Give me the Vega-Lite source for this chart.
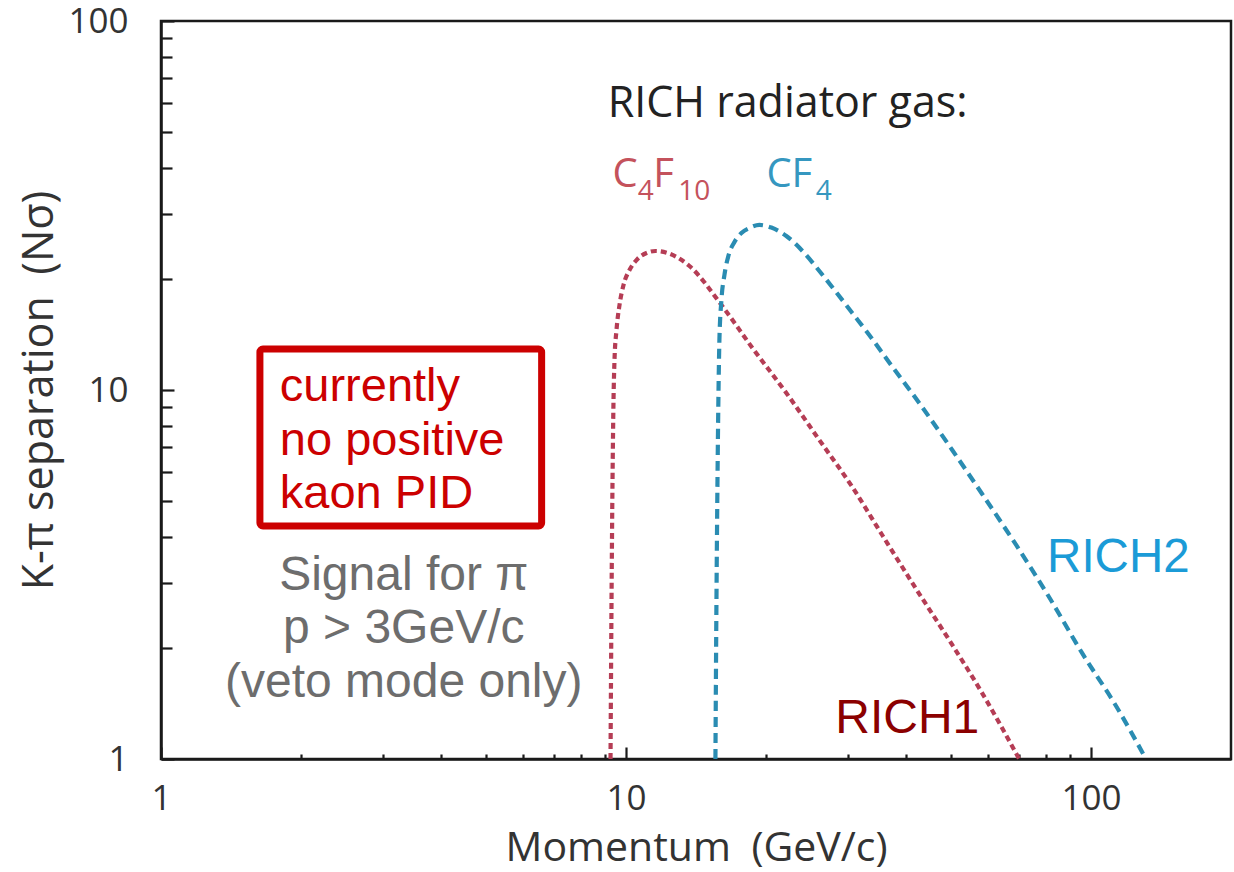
{
  "$schema": "https://vega.github.io/schema/vega-lite/v6.json",
  "width": 1070,
  "height": 738,
  "autosize": {"type": "none"},
  "padding": {"left": 161, "top": 21, "right": 3, "bottom": 113},
  "background": "white",
  "config": {
    "view": {"stroke": "#1a1a1a", "strokeWidth": 2.5},
    "axis": {"grid": false, "tickColor": "#1a1a1a", "domainColor": "#1a1a1a", "domainWidth": 2.5, "tickWidth": 2.2}
  },
  "datasets": {
    "c4f10": [
      {"p": 9.262, "n": 1.0}, {"p": 9.308, "n": 2.697}, {"p": 9.354, "n": 5.704}, {"p": 9.4, "n": 9.395},
      {"p": 9.446, "n": 12.06}, {"p": 9.54, "n": 14.54}, {"p": 9.683, "n": 17.0}, {"p": 9.877, "n": 19.26},
      {"p": 10.175, "n": 21.14}, {"p": 10.586, "n": 22.65}, {"p": 11.067, "n": 23.51}, {"p": 11.571, "n": 23.81},
      {"p": 12.28, "n": 23.51}, {"p": 13.69, "n": 21.68}, {"p": 16.04, "n": 17.0}, {"p": 18.7, "n": 13.0},
      {"p": 22.12, "n": 9.814}, {"p": 26.05, "n": 7.318}, {"p": 30.66, "n": 5.46}, {"p": 35.56, "n": 4.046},
      {"p": 42.08, "n": 2.888}, {"p": 49.54, "n": 2.101}, {"p": 58.33, "n": 1.509}, {"p": 70.05, "n": 1.0}
    ],
    "cf4": [
      {"p": 15.57, "n": 1.0}, {"p": 15.65, "n": 2.697}, {"p": 15.73, "n": 5.704}, {"p": 15.8, "n": 9.395},
      {"p": 15.88, "n": 13.66}, {"p": 16.04, "n": 17.54}, {"p": 16.28, "n": 20.5}, {"p": 16.6, "n": 23.08},
      {"p": 17.11, "n": 25.18}, {"p": 17.71, "n": 26.64}, {"p": 18.42, "n": 27.48}, {"p": 19.36, "n": 28.01},
      {"p": 20.54, "n": 27.56}, {"p": 22.12, "n": 26.15}, {"p": 24.18, "n": 23.51}, {"p": 26.05, "n": 21.01},
      {"p": 28.18, "n": 18.55}, {"p": 30.66, "n": 16.17}, {"p": 33.35, "n": 14.1}, {"p": 36.23, "n": 12.21},
      {"p": 42.71, "n": 9.221}, {"p": 50.29, "n": 6.879}, {"p": 58.33, "n": 5.226}, {"p": 69.02, "n": 3.802},
      {"p": 81.23, "n": 2.748}, {"p": 95.65, "n": 1.938}, {"p": 113.2, "n": 1.392}, {"p": 131.3, "n": 1.0}
    ],
    "box": [{"x1": 1.632, "x2": 6.585, "y1": 12.91, "y2": 4.28}],
    "title_gas": [{"p": 9.13, "n": 54.95, "t": "RICH radiator gas:"}],
    "gas_main": [
      {"gas": "C4F10", "p": 9.354, "n": 35.49, "t": "C"},
      {"gas": "C4F10", "p": 11.45, "n": 35.49, "t": "F"},
      {"gas": "CF4", "p": 20.04, "n": 35.49, "t": "CF"}
    ],
    "gas_sub": [
      {"gas": "C4F10", "p": 10.6, "n": 32.73, "t": "4"},
      {"gas": "C4F10", "p": 12.95, "n": 32.73, "t": "10"},
      {"gas": "CF4", "p": 25.6, "n": 32.73, "t": "4"}
    ],
    "boxtext": [
      {"p": 1.801, "n": 9.338, "t": "currently"},
      {"p": 1.801, "n": 6.666, "t": "no positive"},
      {"p": 1.801, "n": 4.788, "t": "kaon PID"}
    ],
    "signal": [
      {"p": 3.327, "n": 2.871, "t": "Signal for π"},
      {"p": 3.327, "n": 2.063, "t": "p > 3GeV/c"},
      {"p": 3.327, "n": 1.472, "t": "(veto mode only)"}
    ],
    "rich2": [{"p": 80.46, "n": 3.212, "t": "RICH2"}],
    "rich1": [{"p": 28.18, "n": 1.176, "t": "RICH1"}]
  },
  "resolve": {"axis": {"x": "independent", "y": "independent"}},
  "layer": [
    {
      "data": {"name": "c4f10"},
      "mark": {"type": "line", "interpolate": "monotone", "color": "#b53d55", "strokeWidth": 4.2, "strokeDash": [6, 4]},
      "encoding": {
        "x": {"field": "p", "type": "quantitative",
          "scale": {"type": "log", "domain": [1, 200], "nice": false},
          "axis": {"orient": "bottom", "values": [1, 10, 100], "format": "d", "tickSize": -12,
            "labelFont": "Open Sans", "labelFontSize": 35, "labelColor": "#333333", "labelPadding": 34,
            "labelFlush": false, "labelOverlap": false,
            "title": "Momentum\u2002(GeV/c)", "titleFont": "Open Sans", "titleFontSize": 41, "titleFontWeight": "normal",
            "titleColor": "#333333", "titlePadding": 12}},
        "y": {"field": "n", "type": "quantitative",
          "scale": {"type": "log", "domain": [1, 100], "nice": false},
          "axis": {"orient": "left", "values": [1, 10, 100], "format": "d", "tickSize": -13,
            "labelFont": "Open Sans", "labelFontSize": 35, "labelColor": "#333333", "labelPadding": 46,
            "labelFlush": false, "labelOverlap": false,
            "title": "K-π separation\u2002(Nσ)", "titleFont": "Open Sans", "titleFontSize": 43, "titleFontWeight": "normal",
            "titleColor": "#333333", "titlePadding": 6}}
      }
    },
    {
      "data": {"name": "cf4"},
      "mark": {"type": "line", "interpolate": "monotone", "color": "#2a8cb2", "strokeWidth": 4.2, "strokeDash": [10, 6]},
      "encoding": {
        "x": {"field": "p", "type": "quantitative",
          "scale": {"type": "log", "domain": [1, 200], "nice": false},
          "axis": {"orient": "bottom", "values": [2, 3, 4, 5, 6, 7, 8, 9, 20, 30, 40, 50, 60, 70, 80, 90],
            "tickSize": -5, "labels": false, "domain": false, "title": null}},
        "y": {"field": "n", "type": "quantitative",
          "scale": {"type": "log", "domain": [1, 100], "nice": false},
          "axis": {"orient": "left", "values": [2, 3, 4, 5, 6, 7, 8, 9, 20, 30, 40, 50, 60, 70, 80, 90],
            "tickSize": -11, "labels": false, "domain": false, "title": null}}
      }
    },
    {
      "data": {"name": "box"},
      "mark": {"type": "rect", "fill": null, "fillOpacity": 0, "stroke": "#cc0000", "strokeWidth": 7, "cornerRadius": 3},
      "encoding": {
        "x": {"field": "x1", "type": "quantitative", "axis": null},
        "x2": {"field": "x2"},
        "y": {"field": "y1", "type": "quantitative", "axis": null},
        "y2": {"field": "y2"}
      }
    },
    {
      "data": {"name": "title_gas"},
      "mark": {"type": "text", "font": "Open Sans", "fontSize": 43, "color": "#222222", "align": "left", "baseline": "alphabetic"},
      "encoding": {
        "x": {"field": "p", "type": "quantitative", "axis": null},
        "y": {"field": "n", "type": "quantitative", "axis": null},
        "text": {"field": "t"}
      }
    },
    {
      "data": {"name": "gas_main"},
      "mark": {"type": "text", "font": "Open Sans", "fontSize": 40, "align": "left", "baseline": "alphabetic"},
      "encoding": {
        "x": {"field": "p", "type": "quantitative", "axis": null},
        "y": {"field": "n", "type": "quantitative", "axis": null},
        "text": {"field": "t"},
        "color": {"field": "gas", "type": "nominal", "legend": null,
          "scale": {"domain": ["C4F10", "CF4"], "range": ["#c4525c", "#3597c0"]}}
      }
    },
    {
      "data": {"name": "gas_sub"},
      "mark": {"type": "text", "font": "Open Sans", "fontSize": 28, "align": "left", "baseline": "alphabetic"},
      "encoding": {
        "x": {"field": "p", "type": "quantitative", "axis": null},
        "y": {"field": "n", "type": "quantitative", "axis": null},
        "text": {"field": "t"},
        "color": {"field": "gas", "type": "nominal", "legend": null,
          "scale": {"domain": ["C4F10", "CF4"], "range": ["#c4525c", "#3597c0"]}}
      }
    },
    {
      "data": {"name": "boxtext"},
      "mark": {"type": "text", "font": "Liberation Sans", "fontSize": 47, "color": "#cc0000", "align": "left", "baseline": "alphabetic"},
      "encoding": {
        "x": {"field": "p", "type": "quantitative", "axis": null},
        "y": {"field": "n", "type": "quantitative", "axis": null},
        "text": {"field": "t"}
      }
    },
    {
      "data": {"name": "signal"},
      "mark": {"type": "text", "font": "Liberation Sans", "fontSize": 48, "color": "#6d6d6d", "align": "center", "baseline": "alphabetic"},
      "encoding": {
        "x": {"field": "p", "type": "quantitative", "axis": null},
        "y": {"field": "n", "type": "quantitative", "axis": null},
        "text": {"field": "t"}
      }
    },
    {
      "data": {"name": "rich2"},
      "mark": {"type": "text", "font": "Liberation Sans", "fontSize": 47.5, "color": "#1b9bd7", "align": "left", "baseline": "alphabetic"},
      "encoding": {
        "x": {"field": "p", "type": "quantitative", "axis": null},
        "y": {"field": "n", "type": "quantitative", "axis": null},
        "text": {"field": "t"}
      }
    },
    {
      "data": {"name": "rich1"},
      "mark": {"type": "text", "font": "Liberation Sans", "fontSize": 48, "color": "#8b0000", "align": "left", "baseline": "alphabetic"},
      "encoding": {
        "x": {"field": "p", "type": "quantitative", "axis": null},
        "y": {"field": "n", "type": "quantitative", "axis": null},
        "text": {"field": "t"}
      }
    }
  ]
}
